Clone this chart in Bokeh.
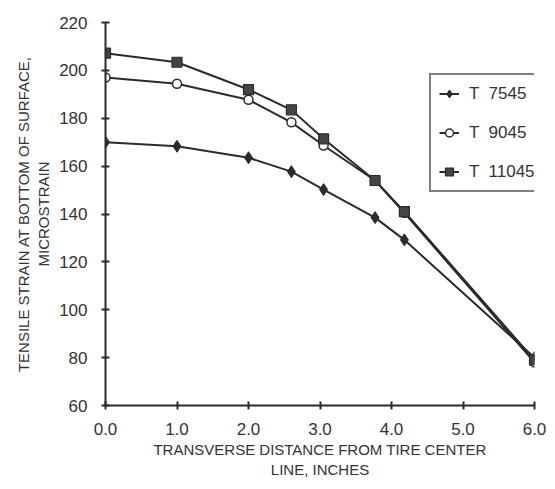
from bokeh.plotting import figure
from bokeh.models import Legend, LegendItem, Range1d, FixedTicker, ColumnDataSource
from bokeh.embed import file_html
from bokeh.resources import INLINE

# Data
distance = [0.0, 1.0, 2.0, 2.6, 3.05, 3.77, 4.18, 6.0]
t7545 = [170, 168.3, 163.5, 157.7, 150.2, 138.5, 129.2, 80]
t9045 = [197, 194.4, 187.7, 178.3, 168.6, 154, 140.5, 78]
t11045 = [207.2, 203.4, 192, 183.5, 171.4, 154, 141, 79]
series_names = ["T  7545", "T  9045", "T  11045"]
x_ticks = [0, 1, 2, 3, 4, 5, 6]
y_ticks = [60, 80, 100, 120, 140, 160, 180, 200, 220]
x_title = "TRANSVERSE DISTANCE FROM TIRE CENTER\nLINE, INCHES"
y_title = "TENSILE STRAIN AT BOTTOM OF SURFACE,\nMICROSTRAIN"

INK = "#2b2b2b"
FONT = "Liberation Sans"

p = figure(width=547, height=481, output_backend="svg", toolbar_location=None,
           x_range=Range1d(0, 6), y_range=Range1d(60, 220),
           min_border_left=105, min_border_right=13, min_border_top=22, min_border_bottom=76)
p.outline_line_color = None
p.xgrid.visible = False
p.ygrid.visible = False
p.background_fill_color = "white"

src = ColumnDataSource(dict(x=distance, a=t7545, b=t9045, c=t11045))

la = p.line("x", "a", source=src, line_color=INK, line_width=2)
sa = p.scatter("x", "a", source=src, marker="diamond", size=12, fill_color=INK, line_color=INK)
lb = p.line("x", "b", source=src, line_color=INK, line_width=2)
sb = p.scatter("x", "b", source=src, marker="circle", size=9, fill_color="white", line_color=INK, line_width=1.5)
lc = p.line("x", "c", source=src, line_color=INK, line_width=2)
sc = p.scatter("x", "c", source=src, marker="square", size=10, fill_color="#444444", line_color=INK, line_width=1.2)

legend = Legend(items=[
    LegendItem(label=series_names[0], renderers=[la, sa]),
    LegendItem(label=series_names[1], renderers=[lb, sb]),
    LegendItem(label=series_names[2], renderers=[lc, sc]),
], location=(324, 213))
legend.border_line_color = "black"
legend.border_line_width = 2
legend.background_fill_color = "white"
legend.background_fill_alpha = 1
legend.label_text_font = FONT
legend.label_text_font_size = "17px"
legend.label_text_color = "#333333"
legend.glyph_width = 20
legend.glyph_height = 21
legend.label_height = 21
legend.spacing = 18
legend.padding = 8
legend.margin = 0
legend.label_standoff = 10
p.add_layout(legend, "center")

for ax in (p.xaxis[0], p.yaxis[0]):
    ax.axis_line_color = INK
    ax.axis_line_width = 2
    ax.major_tick_line_color = INK
    ax.major_tick_line_width = 2
    ax.major_tick_in = 4
    ax.major_tick_out = 4
    ax.minor_tick_line_color = None
    ax.major_label_text_font = FONT
    ax.major_label_text_font_size = "17px"
    ax.major_label_text_color = "#333333"
    ax.axis_label_text_font = FONT
    ax.axis_label_text_font_style = "normal"
    ax.axis_label_text_color = "#333333"

p.xaxis.ticker = FixedTicker(ticks=x_ticks)
p.yaxis.ticker = FixedTicker(ticks=y_ticks)
p.xaxis.major_label_overrides = {t: f"{t:.1f}" for t in x_ticks}
p.xaxis.major_label_standoff = 13
p.yaxis.major_label_standoff = 14

p.xaxis.axis_label = x_title
p.xaxis.axis_label_text_font_size = "15px"
p.xaxis.axis_label_standoff = 3

p.yaxis.axis_label = y_title
p.yaxis.axis_label_text_font_size = "15px"
p.yaxis.axis_label_standoff = 4

open("out.html", "w").write(file_html(p, INLINE))
